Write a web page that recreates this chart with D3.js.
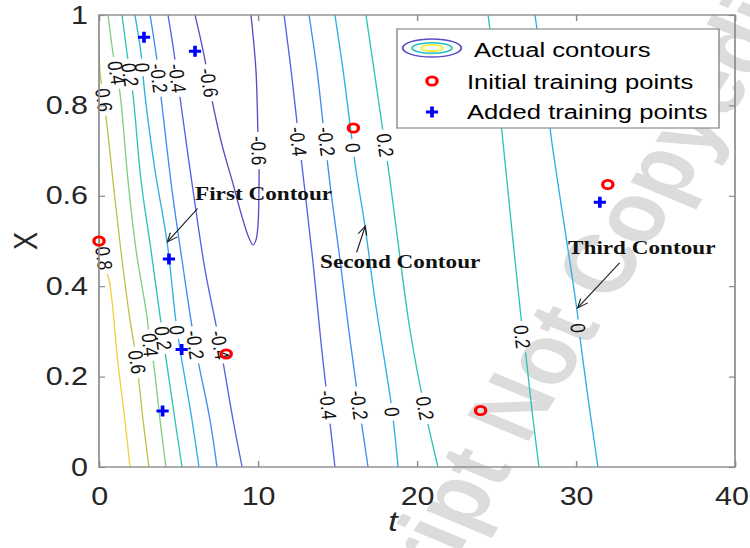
<!DOCTYPE html>
<html>
<head>
<meta charset="utf-8">
<script src="https://cdn.jsdelivr.net/npm/d3@7"></script>
<style>
  body { margin: 0; background: #fff; }
</style>
</head>
<body>
<svg id="chart" width="750" height="548"></svg>
<script>
// contour polylines, each point is [t, X]
const c08  = [[0, 0.662], [0.06, 0.5], [0.25, 0.453], [0.63, 0.414], [1.19, 0.23], [1.64, 0.1], [1.95, 0]];
const c06  = [[0, 0.945], [0.06, 0.874], [0.31, 0.812], [0.5, 0.757], [1.01, 0.591], [1.45, 0.458], [1.95, 0.325], [2.39, 0.232], [2.52, 0.186], [2.77, 0.104], [3.14, 0]];
const c04  = [[0.57, 1], [0.88, 0.916], [1.32, 0.827], [1.82, 0.635], [2.33, 0.48], [3.02, 0.332], [3.21, 0.27], [3.4, 0.237], [3.84, 0.104], [4.21, 0]];
const c02  = [[1.45, 1], [1.76, 0.916], [2.14, 0.823], [2.64, 0.635], [3.27, 0.48], [4.03, 0.285], [4.78, 0.104], [5.22, 0]];
const c00  = [[2.26, 1], [2.64, 0.916], [2.89, 0.823], [3.52, 0.657], [4.28, 0.498], [4.91, 0.303], [5.85, 0.104], [6.29, 0]];
const cm02 = [[3.21, 1], [3.58, 0.916], [3.96, 0.801], [4.59, 0.613], [5.22, 0.458], [6.04, 0.27], [6.98, 0.104], [7.42, 0]];
const cm04 = [[4.34, 1], [4.72, 0.916], [5.16, 0.801], [5.91, 0.613], [6.67, 0.436], [7.61, 0.27], [8.43, 0.104], [9.0, 0]];
const cm06 = [[6.04, 1], [6.6, 0.912], [7.17, 0.801], [7.74, 0.712], [8.36, 0.635], [9.06, 0.546], [9.43, 0.507], [9.69, 0.491],
              [9.87, 0.502], [10.0, 0.535], [10.06, 0.613], [10.06, 0.679], [10.0, 0.735], [9.87, 0.878], [9.56, 1]];
const cm04b = [[11.64, 1], [12.08, 0.878], [12.52, 0.741], [12.96, 0.608], [13.46, 0.453], [13.96, 0.276], [14.4, 0.137], [14.84, 0]];
const cm02b = [[13.21, 1], [13.71, 0.878], [14.15, 0.741], [14.59, 0.608], [15.16, 0.458], [15.79, 0.281], [16.35, 0.137], [16.92, 0]];
const c00b = [[14.84, 1], [15.35, 0.878], [15.79, 0.757], [16.16, 0.657], [16.73, 0.533], [17.36, 0.369], [18.05, 0.215], [18.43, 0.126], [18.81, 0]];
const c02b = [[16.79, 1], [17.3, 0.878], [17.8, 0.757], [18.3, 0.635], [18.87, 0.48], [19.56, 0.303], [20.5, 0.126], [21.32, 0]];
const c02c = [[24.47, 1], [24.91, 0.878], [25.35, 0.739], [25.97, 0.524], [26.54, 0.332], [26.86, 0.243], [27.23, 0.126], [27.67, 0]];
const c00c = [[27.42, 1], [27.99, 0.856], [28.55, 0.701], [29.31, 0.524], [30.06, 0.347], [30.31, 0.27], [30.82, 0.137], [31.38, 0]];

// where the inline level labels sit, [t, X]
const lab08  = [[0.31, 0.462]];
const lab06  = [[0.31, 0.812], [2.39, 0.232]];
const lab04  = [[1.1, 0.872], [3.21, 0.27]];
const lab02  = [[1.95, 0.868], [4.03, 0.285]];
const lab00  = [[2.72, 0.884], [4.91, 0.303]];
const labm02 = [[3.76, 0.86], [6.04, 0.27]];
const labm04 = [[4.93, 0.86], [7.61, 0.27]];
const labm06 = [[6.92, 0.85], [10.04, 0.70]];
const labm04b = [[12.52, 0.72], [14.4, 0.137]];
const labm02b = [[14.3, 0.72], [16.35, 0.137]];
const lab00b = [[15.97, 0.706], [18.43, 0.122]];
const lab02b = [[18.0, 0.712], [20.5, 0.13]];
const lab02c = [[26.6, 0.288]];
const lab00c = [[30.13, 0.307]];

const contours = [
    {level: 0.8, pts: c08, labels: lab08},
    {level: 0.6, pts: c06, labels: lab06},
    {level: 0.4, pts: c04, labels: lab04},
    {level: 0.2, pts: c02, labels: lab02},
    {level: 0, pts: c00, labels: lab00},
    {level: -0.2, pts: cm02, labels: labm02},
    {level: -0.4, pts: cm04, labels: labm04},
    {level: -0.6, pts: cm06, labels: labm06},
    {level: -0.4, pts: cm04b, labels: labm04b},
    {level: -0.2, pts: cm02b, labels: labm02b},
    {level: 0, pts: c00b, labels: lab00b},
    {level: 0.2, pts: c02b, labels: lab02b},
    {level: 0.2, pts: c02c, labels: lab02c},
    {level: 0, pts: c00c, labels: lab00c}
];

// training points
const initT = [0, 8, 16, 24, 32];
const initX = [0.5, 0.25, 0.75, 0.125, 0.625];
const addT = [2.83, 6.04, 4.4, 5.2, 4.0, 31.5];
const addX = [0.951, 0.92, 0.46, 0.26, 0.124, 0.586];

const xTicks = [0, 10, 20, 30, 40];
const yTicks = [0, 0.2, 0.4, 0.6, 0.8, 1];

const legendLabels = ["Actual contours", "Initial training points", "Added training points"];

// annotation text with arrow, positions in [t, X]
const notes = [
    {text: "First Contour", at: [6.04, 0.591], from: [6.2, 0.572], to: [4.3, 0.498]},
    {text: "Second Contour", at: [13.9, 0.44], from: [16.2, 0.475], to: [16.75, 0.533]},
    {text: "Third Contour", at: [29.5, 0.471], from: [32.75, 0.452], to: [30.1, 0.352]}
];

let levelColor = {
    "0.8": "#f6cd42",
    "0.6": "#c4c24a",
    "0.4": "#7fcf7e",
    "0.2": "#2fc3b1",
    "0": "#2cb0e3",
    "-0.2": "#3f8cf2",
    "-0.4": "#5461e6",
    "-0.6": "#5e49c5"
};

// the figure is stretched sideways, draw in an unstretched space then scale
const SX = 1.22;
const svg = d3.select("#chart");
const defs = svg.append("defs");
const root = svg.append("g").attr("transform", "scale(" + SX + ",1)");

const x = d3.scaleLinear().domain([0, 40]).range([99 / SX, 735 / SX]);
const y = d3.scaleLinear().domain([0, 1]).range([467, 15]);

const sansFont = "'Liberation Sans', Arial, Helvetica, sans-serif";
const axisColor = "#8c8c8c";
const textColor = "#262626";

defs.append("clipPath").attr("id", "plotClip")
    .append("rect")
    .attr("x", x(0)).attr("y", y(1))
    .attr("width", x(40) - x(0)).attr("height", y(0) - y(1));

defs.append("marker")
    .attr("id", "arrowHead")
    .attr("viewBox", "-10 -6 12 12")
    .attr("refX", 0).attr("refY", 0)
    .attr("markerWidth", 12).attr("markerHeight", 12)
    .attr("markerUnits", "userSpaceOnUse")
    .attr("orient", "auto")
    .append("path")
    .attr("d", "M-9,-3.6L0,0L-9,3.6")
    .attr("fill", "none")
    .attr("stroke", "#222")
    .attr("stroke-width", 1);

let line = d3.line()
    .x(function(d) { return x(d[0]); })
    .y(function(d) { return y(d[1]); })
    .curve(d3.curveCatmullRom.alpha(0.5));

// faint watermark sits under everything else
let markLayer = root.append("g");
let plot = root.append("g").attr("clip-path", "url(#plotClip)");
let labelLayer = root.append("g");

// direction of the contour near a label, so the text follows the line
function labelAngle(pts, px, py) {
    let best = 0, bestD = Infinity;
    for (var k = 0; k < pts.length - 1; k++) {
        let ax = x(pts[k][0]), ay = y(pts[k][1]);
        let bx = x(pts[k + 1][0]), by = y(pts[k + 1][1]);
        let vx = bx - ax, vy = by - ay;
        let u = ((px - ax) * vx + (py - ay) * vy) / (vx * vx + vy * vy);
        u = Math.max(0, Math.min(1, u));
        let qx = ax + u * vx, qy = ay + u * vy;
        let d = (qx - px) * (qx - px) + (qy - py) * (qy - py);
        if (d < bestD) {
            bestD = d;
            best = k;
        }
    }
    let dx = x(pts[best + 1][0]) - x(pts[best][0]);
    let dy = y(pts[best + 1][1]) - y(pts[best][1]);
    if (dy < 0) { dx = -dx; dy = -dy; }
    return Math.atan2(dy, dx) * 180 / Math.PI;
}

contours.forEach(function(c, i) {
    let color = levelColor[String(c.level)];

    let mask = defs.append("mask")
        .attr("id", "gap" + i)
        .attr("maskUnits", "userSpaceOnUse")
        .attr("x", 0).attr("y", 0).attr("width", 750).attr("height", 548);
    mask.append("rect")
        .attr("x", 0).attr("y", 0).attr("width", 750).attr("height", 548)
        .attr("fill", "#fff");

    c.labels.forEach(function(p) {
        let px = x(p[0]), py = y(p[1]);
        let ang = labelAngle(c.pts, px, py);
        let label = labelLayer.append("text")
            .attr("transform", "translate(" + px + "," + py + ") rotate(" + ang + ")")
            .attr("text-anchor", "middle")
            .attr("dy", "0.35em")
            .style("font-family", sansFont)
            .style("font-size", "17px")
            .style("fill", "#111")
            .text(String(c.level));
        let len = label.node().getComputedTextLength();
        mask.append("rect")
            .attr("transform", "translate(" + px + "," + py + ") rotate(" + ang + ")")
            .attr("x", -len / 2 - 4).attr("y", -8)
            .attr("width", len + 8).attr("height", 16)
            .attr("fill", "#000");
    });

    plot.append("path")
        .datum(c.pts)
        .attr("d", line)
        .attr("fill", "none")
        .attr("stroke", color)
        .attr("stroke-width", 1.1)
        .attr("mask", "url(#gap" + i + ")");
});

// axes, ticks drawn inward like the original
let bottomAxis = root.append("g")
    .attr("transform", "translate(0," + y(0) + ")")
    .call(d3.axisBottom(x).tickValues(xTicks).tickSizeInner(-6).tickSizeOuter(0).tickPadding(20)
        .tickFormat(d3.format("d")));
let topAxis = root.append("g")
    .attr("transform", "translate(0," + y(1) + ")")
    .call(d3.axisTop(x).tickValues(xTicks).tickSizeInner(-6).tickSizeOuter(0).tickFormat(""));
let leftAxis = root.append("g")
    .attr("transform", "translate(" + x(0) + ",0)")
    .call(d3.axisLeft(y).tickValues(yTicks).tickSizeInner(-5).tickSizeOuter(0).tickPadding(9)
        .tickFormat(function(d) { return String(d); }));
let rightAxis = root.append("g")
    .attr("transform", "translate(" + x(40) + ",0)")
    .call(d3.axisRight(y).tickValues(yTicks).tickSizeInner(-5).tickSizeOuter(0).tickFormat(""));

[bottomAxis, topAxis, leftAxis, rightAxis].forEach(function(a) {
    a.select(".domain").remove();
    a.selectAll("line").attr("stroke", axisColor).attr("stroke-width", 1.2);
    a.selectAll("text")
        .style("font-family", sansFont)
        .style("font-size", "25px")
        .style("fill", textColor);
});
// the last x label sits right at the figure edge, nudge it in
bottomAxis.selectAll(".tick text")
    .attr("dx", function(d) { return d === 40 ? -3 : 0; });

root.append("rect")
    .attr("x", x(0)).attr("y", y(1))
    .attr("width", x(40) - x(0)).attr("height", y(0) - y(1))
    .attr("fill", "none")
    .attr("stroke", axisColor)
    .attr("stroke-width", 1.4);

// axis titles
root.append("text")
    .attr("x", 393 / SX).attr("y", 531)
    .attr("text-anchor", "middle")
    .style("font-family", sansFont)
    .style("font-style", "italic")
    .style("font-size", "28px")
    .style("fill", textColor)
    .text("t");
root.append("text")
    .attr("transform", "translate(" + (26 / SX + 9) + "," + ((y(0) + y(1)) / 2) + ") rotate(-90)")
    .attr("text-anchor", "middle")
    .style("font-family", sansFont)
    .style("font-size", "27px")
    .style("fill", textColor)
    .text("X");

// annotations
let noteLayer = root.append("g");
notes.forEach(function(n) {
    noteLayer.append("line")
        .attr("x1", x(n.from[0])).attr("y1", y(n.from[1]))
        .attr("x2", x(n.to[0])).attr("y2", y(n.to[1]))
        .attr("stroke", "#222")
        .attr("stroke-width", 1)
        .attr("marker-end", "url(#arrowHead)");
    noteLayer.append("text")
        .attr("x", x(n.at[0])).attr("y", y(n.at[1]))
        .style("font-family", "'Liberation Serif', 'Times New Roman', serif")
        .style("font-weight", "bold")
        .style("font-size", "19px")
        .style("fill", "#111")
        .text(n.text);
});

// training points
let pointLayer = root.append("g");
initT.forEach(function(t, i) {
    pointLayer.append("circle")
        .attr("cx", x(t)).attr("cy", y(initX[i]))
        .attr("r", 4.2)
        .attr("fill", "none")
        .attr("stroke", "#ff0000")
        .attr("stroke-width", 2.7);
});
addT.forEach(function(t, i) {
    pointLayer.append("path")
        .attr("transform", "translate(" + x(t) + "," + y(addX[i]) + ")")
        .attr("d", "M-5,0H5M0,-5.5V5.5")
        .attr("stroke", "#0000ff")
        .attr("stroke-width", 3);
});

// legend
let legend = root.append("g");
legend.append("rect")
    .attr("x", 397 / SX).attr("y", 29)
    .attr("width", (719 - 397) / SX).attr("height", 99)
    .attr("fill", "#fff")
    .attr("stroke", axisColor)
    .attr("stroke-width", 1.2);
let iconX = 432 / SX;
[[24, 9, "#5e49c5"], [16.4, 5.3, "#25c2c4"], [8.6, 3.2, "#f2ec1f"]].forEach(function(e) {
    legend.append("ellipse")
        .attr("cx", iconX).attr("cy", 48)
        .attr("rx", e[0]).attr("ry", e[1])
        .attr("fill", "none")
        .attr("stroke", e[2])
        .attr("stroke-width", 1.5);
});
legend.append("circle")
    .attr("cx", iconX).attr("cy", 81)
    .attr("r", 4.2)
    .attr("fill", "none")
    .attr("stroke", "#ff0000")
    .attr("stroke-width", 2.7);
legend.append("path")
    .attr("transform", "translate(" + iconX + ",112)")
    .attr("d", "M-5,0H5M0,-5.5V5.5")
    .attr("stroke", "#0000ff")
    .attr("stroke-width", 3);
let legendTextX = [474 / SX, 467 / SX, 467 / SX];
let legendTextY = [57, 89, 119];
legendLabels.forEach(function(s, i) {
    legend.append("text")
        .attr("x", legendTextX[i]).attr("y", legendTextY[i])
        .style("font-family", sansFont)
        .style("font-size", "21px")
        .style("fill", "#000")
        .text(s);
});

// watermark text running diagonally
let mark = markLayer.append("text")
    .attr("transform", "translate(" + (532 / SX) + ",372) rotate(-63)")
    .style("font-family", sansFont)
    .style("font-weight", "bold")
    .style("font-size", "82px")
    .style("fill", "#dcdcdc")
    .text("Manuscript Not Copyedited");
let pre = mark.node().getSubStringLength(0, 11);
let notLen = mark.node().getSubStringLength(11, 3);
mark.attr("x", -(pre + notLen / 2)).attr("y", 29);
</script>
</body>
</html>
